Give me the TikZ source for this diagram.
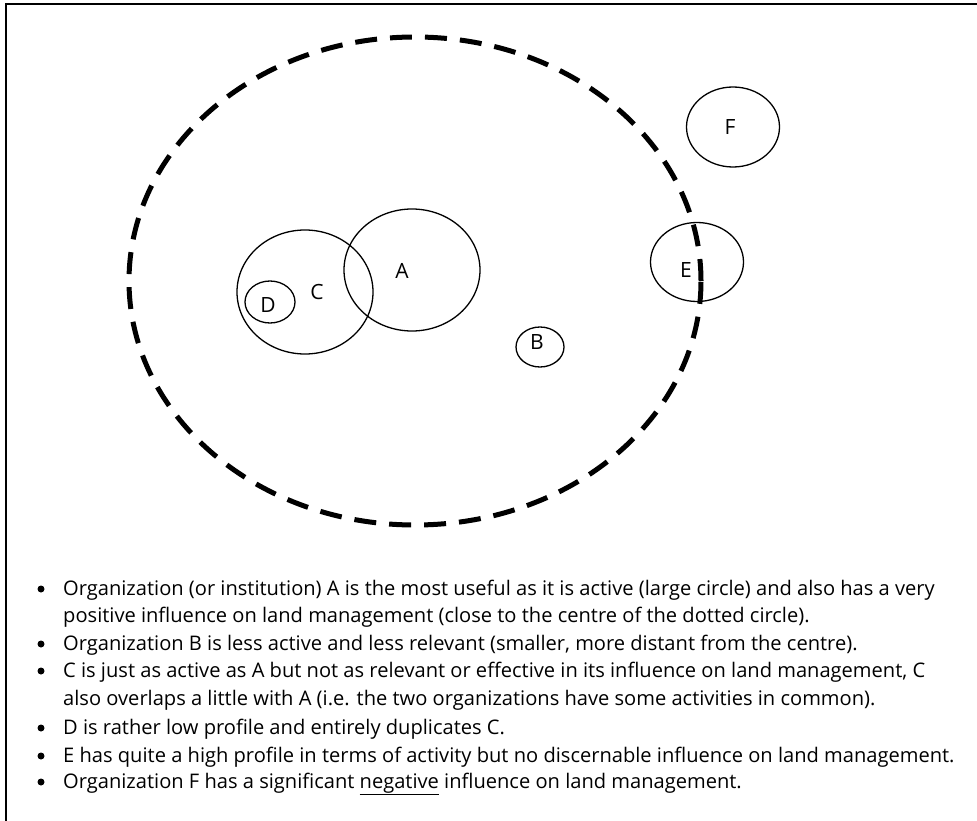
\documentclass[tikz,border=0pt]{standalone}
\usepackage{fontspec}
\setmainfont{Open Sans}
\usetikzlibrary{shapes.geometric}
\tikzset{
  org/.style={draw, ellipse, line width=1.3pt, inner sep=0pt},
  orglabel/.style={font=\fontsize{21}{21}\selectfont, inner sep=0pt},
  txt/.style={anchor=base west, inner sep=0pt, font=\fontsize{20.1}{22}\selectfont},
  bul/.style={circle, fill=black, inner sep=0pt, minimum size=7pt},
}
\begin{document}
\begin{tikzpicture}[x=1pt,y=-1pt]
\useasboundingbox (0,0) rectangle (977,821);
% frame
\coordinate (fb) at (6,821);
\coordinate (ftl) at (6,4);
\coordinate (fr) at (977,4);
\draw[line width=1.5pt] (fb) -- (ftl) -- (fr);
% dashed influence ellipse
\node[draw, ellipse, inner sep=0pt, line width=5pt, dash pattern=on 22pt off 13pt,
      minimum width=572pt, minimum height=488pt] (big) at (415,281) {};
% organisations
\node[org, minimum width=136pt, minimum height=122pt] (A) at (412,270) {};
\node[org, minimum width=136pt, minimum height=124pt] (C) at (305,292) {};
\node[org, minimum width=50pt, minimum height=42pt] (D) at (270,302) {};
\node[org, minimum width=48pt, minimum height=40pt] (B) at (540,347) {};
\node[org, minimum width=93pt, minimum height=79pt] (E) at (697,262) {};
\node[org, minimum width=93pt, minimum height=80pt] (F) at (733,127) {};
\node[orglabel] (lA) at (402,271) {A};
\node[orglabel] (lC) at (317,292) {C};
\node[orglabel] (lD) at (268,305) {D};
\node[orglabel] (lB) at (537,342) {B};
\node[orglabel] (lE) at (686,270) {E};
\node[orglabel] (lF) at (730,127) {F};
% legend
\node[bul] (b1) at (41,589) {};
\node[bul] (b2) at (41,644) {};
\node[bul] (b3) at (41,671) {};
\node[bul] (b4) at (41,728) {};
\node[bul] (b5) at (41,756) {};
\node[bul] (b6) at (41,782) {};
\node[txt] (t1) at (63,595) {Organization (or institution) A is the most useful as it is active (large circle) and also has a very};
\node[txt] (t1b) at (63,622) {positive influence on land management (close to the centre of the dotted circle).};
\node[txt] (t2) at (63,650) {Organization B is less active and less relevant (smaller, more distant from the centre).};
\node[txt] (t3) at (63,677) {C is just as active as A but not as relevant or effective in its influence on land management, C};
\node[txt] (t3b) at (63,705) {also overlaps a little with A (i.e. the two organizations have some activities in common).};
\node[txt] (t4) at (63,734) {D is rather low profile and entirely duplicates C.};
\node[txt] (t5) at (63,762) {E has quite a high profile in terms of activity but no discernable influence on land management.};
\node[txt] (t6) at (63,788) {Organization F has a significant \underline{negative} influence on land management.};
\end{tikzpicture}
\end{document}
